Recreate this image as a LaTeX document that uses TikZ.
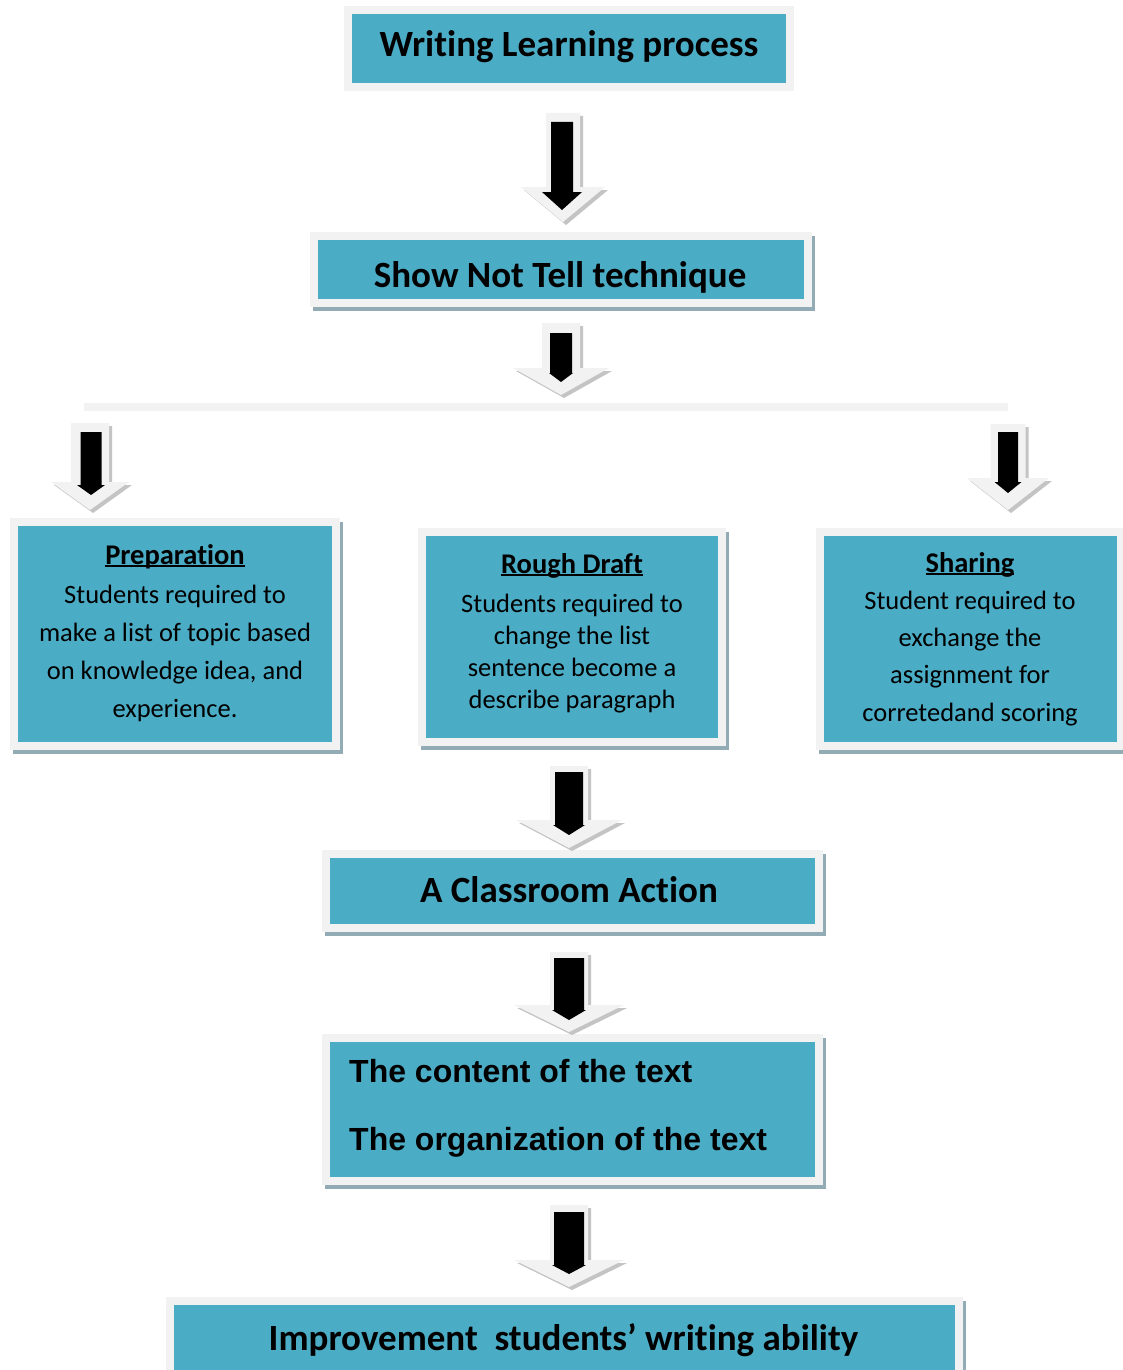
\documentclass[tikz,border=0pt]{standalone}
\usepackage{fontspec}
\setmainfont{Carlito}[Ligatures=NoCommon]
\newfontfamily\arialfont{Liberation Sans}
\definecolor{tealfill}{HTML}{4BACC6}
\definecolor{rimgray}{HTML}{F2F2F2}
\definecolor{boxshadow}{HTML}{93ABB5}
\definecolor{arrshadow}{HTML}{C4C4C4}
\newcommand{\myul}[1]{\leavevmode\setbox0\hbox{#1}\rlap{\rule[-3pt]{\wd0}{1.8pt}}\box0}
% cx, top, base, tip, shaft half, head half, colour
\newcommand{\arrowshape}[7]{\fill[#7] ({#1-#5},{#2}) -- ({#1+#5},{#2}) -- ({#1+#5},{#3}) -- ({#1+#6},{#3}) -- ({#1},{#4}) -- ({#1-#6},{#3}) -- ({#1-#5},{#3}) -- cycle;}
\newcommand{\outerarrow}[6]{\begin{scope}[shift={(3,3)}]\arrowshape{#1}{#2}{#3}{#4}{#5}{#6}{arrshadow}\end{scope}\arrowshape{#1}{#2}{#3}{#4}{#5}{#6}{rimgray}}
\newcommand{\innerarrow}[6]{\arrowshape{#1}{#2}{#3}{#4}{#5}{#6}{black}}
% name, x1, y1, x2, y2 (outer edge), shadow flag
\newcommand{\flowbox}[6]{%
  \ifnum#6=1 \fill[boxshadow] ({#2+3},{#3+4}) rectangle ({#4+3},{#5+4});\fi
  \node[boxst, minimum width={#4-#2-8}, minimum height={#5-#3-8}] (#1) at ({(#2+#4)/2},{(#3+#5)/2}) {};}
\begin{document}
\begin{tikzpicture}[x=1pt,y=-1pt,
  boxst/.style={rectangle, draw=rimgray, fill=tealfill, line width=8pt, inner sep=0pt},
  titletext/.style={font=\fontsize{37}{44}\selectfont\bfseries, anchor=base, inner sep=0pt},
  bodytext/.style={anchor=base, inner sep=0pt}]
\fill[white] (0,0) rectangle (1123,1370);
\useasboundingbox (0,0) rectangle (1123,1370);

% boxes
\flowbox{wlp}{344}{6}{794}{91}{0}
\flowbox{snt}{310}{232}{812}{307}{1}
\flowbox{prep}{10}{518}{340}{750}{1}
\flowbox{rough}{418}{528}{726}{746}{1}
\flowbox{share}{816}{528}{1125}{750}{1}
\flowbox{action}{322}{850}{823}{932}{1}
\flowbox{content}{322}{1034}{823}{1185}{1}
\flowbox{improve}{166}{1297}{963}{1380}{1}

% divider line
\fill[rimgray] (84,403) rectangle (1008,411);

% arrows
\outerarrow{563}{113}{187}{222}{17}{42}
\innerarrow{562}{122}{192}{210}{11}{20}
\outerarrow{561}{323}{368}{395}{19}{48}
\innerarrow{561}{333}{373}{382}{11}{12}
\outerarrow{90}{423}{482}{510}{19}{39}
\innerarrow{91}{432}{485}{495}{10.5}{14}
\outerarrow{1008}{424}{478}{510}{17.5}{41}
\innerarrow{1008}{432}{482}{493}{10}{13.5}
\outerarrow{569}{766}{820}{848}{19}{53}
\innerarrow{569}{772}{825}{835}{14}{16}
\outerarrow{569}{952}{1005}{1032}{19}{55}
\innerarrow{569}{958}{1010}{1020}{15}{17}
\outerarrow{569}{1205}{1260}{1287}{19}{55}
\innerarrow{569}{1212}{1265}{1274}{15}{17}

% texts
\node[titletext] (t-wlp) at (569,57) {Writing Learning process};
\node[titletext] (t-snt) at (560,287) {Show Not Tell technique};
\node[titletext] (t-action) at (569,902) {A Classroom Action};
\node[titletext] (t-improve) at (563.5,1350) {Improvement\ \ students’ writing ability};

\node[bodytext, font=\fontsize{26.5}{38.3}\selectfont] (t-prep) at (175,564)
  {\begin{tabular}[t]{@{}c@{}}{\fontsize{28.5}{34}\selectfont\bfseries\myul{Preparation}}\\[0.7pt]
   Students required to\\ make a list of topic based\\ on knowledge idea, and\\ experience.\end{tabular}};
\node[bodytext, font=\fontsize{26.5}{32}\selectfont] (t-rough) at (572,573)
  {\begin{tabular}[t]{@{}c@{}}{\fontsize{28.5}{34}\selectfont\bfseries\myul{Rough Draft}}\\[7pt]
   Students required to\\ change the list\\ sentence become a\\ describe paragraph\end{tabular}};
\node[bodytext, font=\fontsize{26.5}{37.3}\selectfont] (t-share) at (970,572)
  {\begin{tabular}[t]{@{}c@{}}{\fontsize{28.5}{34}\selectfont\bfseries\myul{Sharing}}\\
   Student required to\\ exchange the\\ assignment for\\ corretedand scoring\end{tabular}};
\node[anchor=base west, inner sep=0pt, font=\fontsize{32}{68}\selectfont\arialfont\bfseries] (t-content) at (349,1082)
  {\begin{tabular}[t]{@{}l@{}}The content of the text\\ The organization of the text\end{tabular}};
\end{tikzpicture}
\end{document}
